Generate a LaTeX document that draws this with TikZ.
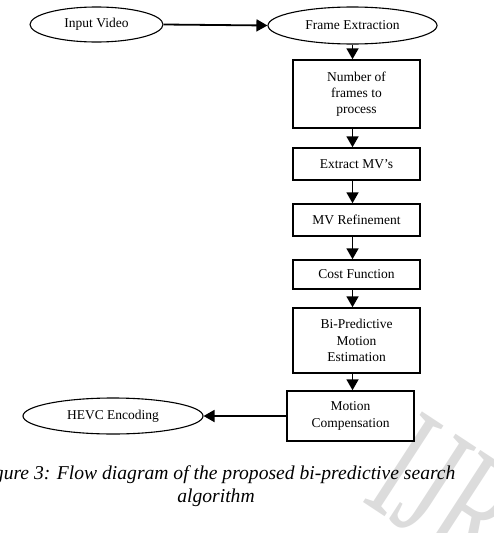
\documentclass[tikz,border=0pt]{standalone}
\usepackage{fontspec}
\setmainfont{Liberation Serif}
\usetikzlibrary{shapes.geometric,arrows.meta}
\definecolor{stamp}{HTML}{DCDCDC}

\begin{document}
\begin{tikzpicture}[x=1pt,y=-1pt,
  oval/.style={draw,ellipse,line width=1.1pt,inner sep=0pt,font=\fontsize{13.5}{16.3}\selectfont},
  box/.style={draw,line width=1.5pt,minimum width=127pt,inner sep=0pt,align=center,font=\fontsize{13.5}{16.3}\selectfont},
  flow/.style={line width=1.8pt,-{Triangle[length=11pt,width=12pt]}}]
 \useasboundingbox (0,0) rectangle (493,533);
 \node[text=stamp,font=\fontsize{165}{165}\selectfont,anchor=base west,inner sep=0pt,
   cm={0.5,-0.33,0.545,0.839,(0pt,0pt)}] (wm) at (360,500) {IJR};
 \node[oval,minimum width=133pt,minimum height=35pt] (inp) at (96.5,24.5) {Input Video};
 \node[oval,minimum width=169pt,minimum height=37pt] (frm) at (352.5,25.5) {Frame Extraction};
 \node[box,minimum height=68pt] (num) at (356.5,94) {Number of\\frames to\\process};
 \node[box,minimum height=32pt] (ext) at (356.5,164) {Extract MV’s};
 \node[box,minimum height=32pt] (ref) at (356.5,220) {MV Refinement};
 \node[box,minimum height=29pt] (cost) at (356.5,274.5) {Cost Function};
 \node[box,minimum height=65pt] (bip) at (356.5,340.5) {Bi-Predictive\\Motion\\Estimation};
 \node[box,minimum height=50pt] (mc) at (350.5,416) {Motion\\Compensation};
 \node[oval,minimum width=180pt,minimum height=36pt] (hevc) at (113,416) {HEVC Encoding};
 \draw[flow] (inp.east) -- (frm.west);
 \draw[flow] (frm.south) -- (frm.south |- num.north);
 \foreach \a/\b in {num/ext,ext/ref,ref/cost,cost/bip,bip/mc}
  \draw[flow] (\a.south -| frm) -- (\b.north -| frm);
 \draw[flow] (mc.west) -- (hevc.east);
 \node[font=\fontsize{19.6}{23}\selectfont\itshape,align=center,inner sep=0pt] (cap) at (216,486)
    {Figure 3: Flow diagram of the proposed bi-predictive search\\algorithm};
\end{tikzpicture}
\end{document}
